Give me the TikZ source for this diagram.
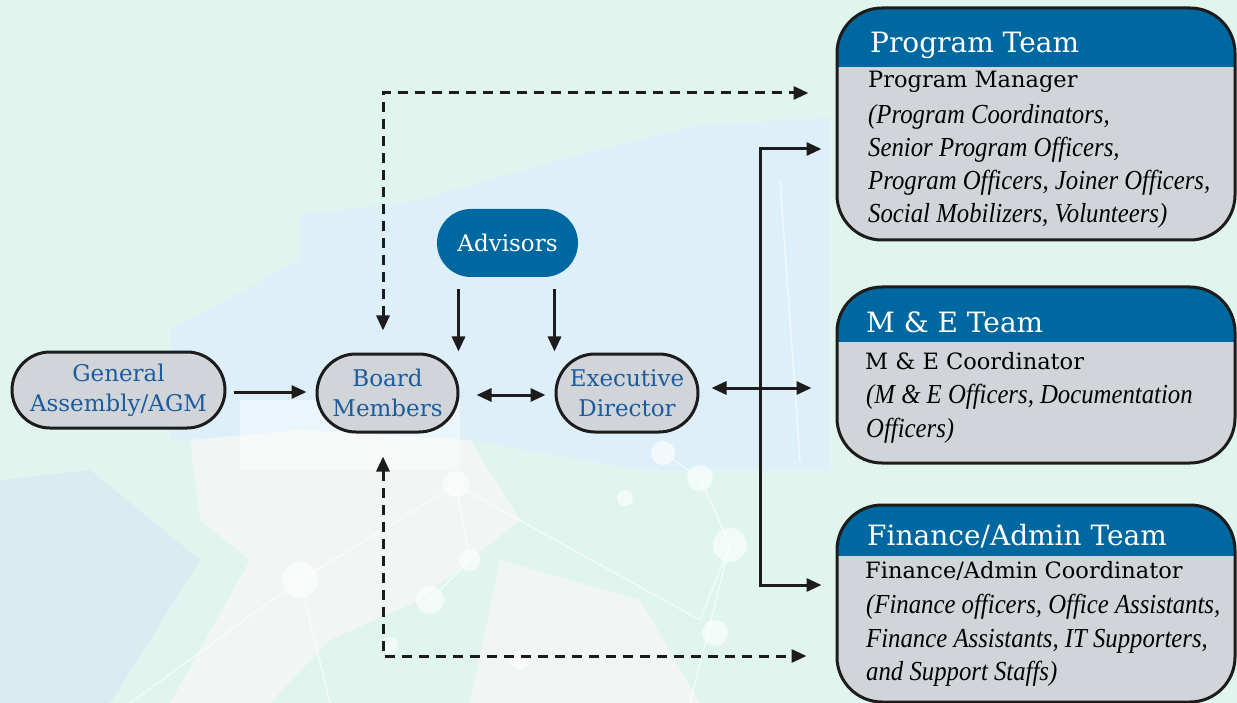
\documentclass[tikz,border=0pt]{standalone}
\usepackage{fontspec}
\setmainfont{DejaVu Serif}
\newfontfamily\bodyit{Liberation Serif}[FakeStretch=0.9]
\usetikzlibrary{arrows.meta,calc}
\definecolor{bgmint}{HTML}{DFF5EE}
\definecolor{bgblue}{HTML}{DDF0FA}
\definecolor{bgwhite}{HTML}{F1F6F4}
\definecolor{bgblue2}{HTML}{DAECF2}
\definecolor{hdrblue}{HTML}{0068A1}
\definecolor{boxgray}{HTML}{D1D5D9}
\definecolor{textblue}{HTML}{1B5C9E}
\definecolor{linec}{HTML}{1E1B1C}
\tikzset{
  pill/.style={draw=linec, line width=3pt, fill=boxgray, rounded corners=#1, inner sep=0pt,
    text=textblue, align=center, font=\fontsize{23}{30}\selectfont},
  advbox/.style={fill=hdrblue, rounded corners=34pt, inner sep=0pt, text=white,
    minimum width=141pt, minimum height=68pt, font=\fontsize{23}{30}\selectfont},
  teambox/.style={draw=linec, line width=3pt, fill=boxgray, rounded corners=45pt,
    minimum width=398pt, inner sep=0pt,
    path picture={\fill[hdrblue, sharp corners] (path picture bounding box.north west) rectangle
      ([yshift=-#1]path picture bounding box.north east);}},
  teamtitle/.style={anchor=base west, inner sep=0pt, text=white, font=\fontsize{28}{30}\selectfont},
  leadline/.style={anchor=base west, inner sep=0pt, text=black, font=\fontsize{22.5}{30}\selectfont},
  itline/.style={anchor=base west, inner sep=0pt, text=black, font=\bodyit\itshape\fontsize{27.5}{30}\selectfont},
  arr/.style={draw=linec, line width=3pt, -{Triangle[length=15pt,width=13pt]}},
  twoway/.style={draw=linec, line width=3pt, {Triangle[length=15pt,width=13pt]}-{Triangle[length=15pt,width=13pt]}},
  dashline/.style={twoway, dash pattern=on 10pt off 7pt},
  net/.style={white, opacity=0.6},
}
\begin{document}
\begin{tikzpicture}[x=1pt,y=-1pt]
\useasboundingbox (0,0) rectangle (1237,703);
% background
\fill[bgmint] (0,0) rectangle (1237,703);
\fill[bgblue] (300,215) -- (420,200) -- (560,160) -- (700,125) -- (830,118) -- (830,470) -- (640,470) -- (470,440) -- (300,445) -- cycle;
\fill[bgblue] (170,330) -- (300,260) -- (300,445) -- (170,440) -- cycle;
\fill[bgblue2] (0,480) -- (90,470) -- (200,560) -- (110,703) -- (0,703) -- cycle;
\fill[bgwhite] (190,440) -- (300,430) -- (470,440) -- (520,520) -- (420,600) -- (330,640) -- (270,703) -- (170,703) -- (250,560) -- (200,520) -- cycle;
\fill[bgwhite] (500,560) -- (640,600) -- (700,703) -- (470,703) -- cycle;
\fill[white, opacity=0.4] (240,400) rectangle (460,470);
% network decoration
\draw[net, line width=1.5pt] (456,485) -- (300,580) -- (130,703);
\draw[net, line width=1.5pt] (456,485) -- (700,620) -- (730,545) -- (700,478) -- (663,453);
\draw[net, line width=1.5pt] (300,580) -- (330,703);
\draw[net, line width=1.5pt] (456,485) -- (470,560) -- (430,600);
\draw[net, line width=1.5pt] (730,545) -- (690,703);
\draw[net, line width=1.5pt] (780,180) -- (800,460);
\foreach \cx/\cy/\r in {456/484/13, 300/580/18, 430/600/14, 520/660/10, 663/453/12, 700/478/13, 730/545/17, 715/633/13, 625/498/8, 470/560/11, 390/645/8} {
  \fill[net] (\cx,\cy) circle (\r);
}
% nodes
\node[pill=38pt, minimum width=213pt, minimum height=76pt] (ga) at (118.5,390) {General\\Assembly/AGM};
\node[pill=39pt, minimum width=141pt, minimum height=78pt] (bm) at (387.5,393) {Board\\Members};
\node[pill=39pt, minimum width=142pt, minimum height=78pt] (ed) at (627,393) {Executive\\Director};
\node[advbox] (adv) at (507.5,243) {Advisors};
\node[teambox=59pt, minimum height=232pt] (pt) at (1036,124) {};
\node[teambox=55pt, minimum height=176pt] (me) at (1036,375) {};
\node[teambox=51pt, minimum height=197pt] (fa) at (1036,603.5) {};
% team texts
\node[teamtitle] (pt-t) at (870,53) {Program Team};
\node[leadline] (pt-1) at (868,88) {Program Manager};
\node[itline] (pt-2) at (868,124) {(Program Coordinators,};
\node[itline] (pt-3) at (868,157) {Senior Program Officers,};
\node[itline] (pt-4) at (868,190) {Program Officers, Joiner Officers,};
\node[itline] (pt-5) at (868,223) {Social Mobilizers, Volunteers)};
\node[teamtitle] (me-t) at (866,333) {M \& E Team};
\node[leadline] (me-1) at (865,369) {M \& E Coordinator};
\node[itline] (me-2) at (866,403) {(M \& E Officers, Documentation};
\node[itline] (me-3) at (866,437) {Officers)};
\node[teamtitle] (fa-t) at (867,545) {Finance/Admin Team};
\node[leadline] (fa-1) at (865,578) {Finance/Admin Coordinator};
\node[itline] (fa-2) at (866,613) {(Finance officers, Office Assistants,};
\node[itline] (fa-3) at (866,647) {Finance Assistants, IT Supporters,};
\node[itline] (fa-4) at (866,680) {and Support Staffs)};
% coordinates
\coordinate (bt) at (760,149);
\coordinate (bb) at (760,585);
\coordinate (dt) at (383,93);
\coordinate (db) at (383,656);
% connectors
\draw[arr, shorten <=7pt, shorten >=9pt] ([yshift=-2pt]ga.east) -- ([yshift=-2pt]ga.east -| bm.west);
\draw[twoway, shorten <=17pt, shorten >=9pt] ([yshift=-2pt]bm.east) -- ([yshift=-2pt]bm.east -| ed.west);
\draw[arr, shorten <=12pt, shorten >=1pt] ([xshift=-1pt]adv.south -| bm.north east) -- ([xshift=-1pt]bm.north east);
\draw[arr, shorten <=12pt, shorten >=1pt] (adv.south -| ed.north west) -- (ed.north west);
\draw[twoway, shorten <=12pt, shorten >=24pt] ([yshift=5pt]ed.east) -- ([yshift=5pt]ed.east -| me.west);
\draw[draw=linec, line width=3pt] (bt) -- (bb);
\draw[arr, shorten >=14pt] ([yshift=-1.5pt]bt) -- (bt) -- (bt -| pt.west);
\draw[arr, shorten >=14pt] ([yshift=1.5pt]bb) -- (bb) -- (bb -| fa.west);
\draw[dashline, shorten <=22pt, shorten >=27pt] (dt |- bm.north) -- (dt) -- (dt -| pt.west);
\draw[dashline, shorten <=23pt, shorten >=29pt] (db |- bm.south) -- (db) -- (db -| fa.west);
\end{tikzpicture}
\end{document}
